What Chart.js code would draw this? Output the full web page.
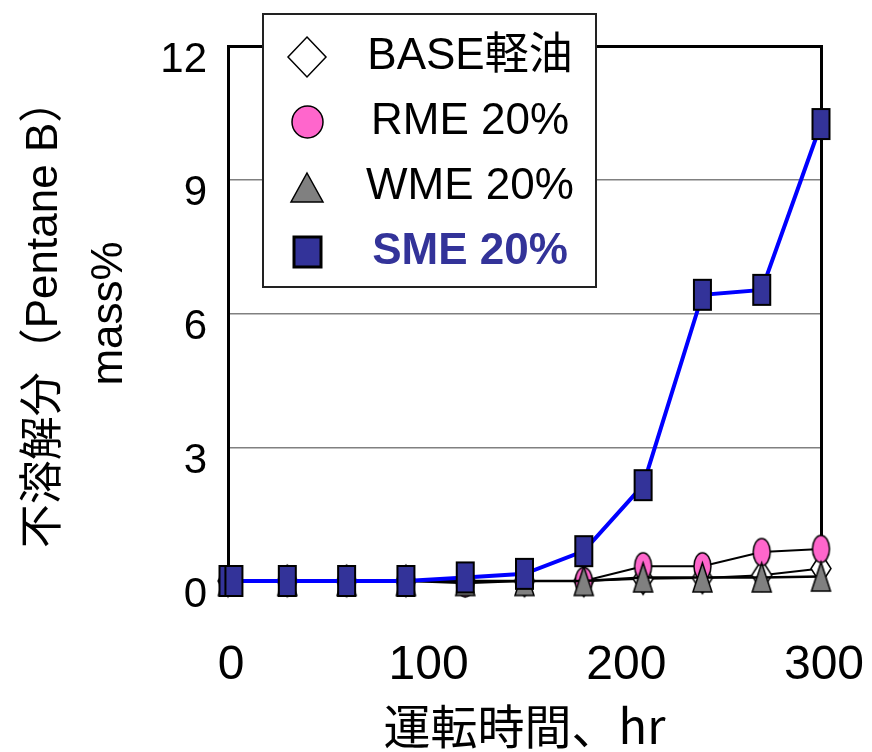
<!DOCTYPE html>
<html>
<head>
<meta charset="utf-8">
<script src="https://cdn.jsdelivr.net/npm/chart.js@4/dist/chart.umd.min.js"></script>
<style>
  html, body { margin: 0; padding: 0; background: #fff; }
  #wrap { width: 872px; height: 752px; position: relative; }
</style>
</head>
<body>
<div id="wrap"><canvas id="c"></canvas></div>
<script>
// Running time (hr) for each sample
const hours = [0, 30, 60, 90, 120, 150, 180, 210, 240, 270, 300];
const smeHours = [0, 3, 30, 60, 90, 120, 150, 180, 210, 240, 270, 300];

// Insoluble content (Pentane B), mass%
const baseOil = [0, 0, 0, 0, 0, 0, 0, 0.05, 0.07, 0.13, 0.28];
const rme20   = [0, 0, 0, 0, -0.05, 0, 0, 0.33, 0.33, 0.65, 0.72];
const wme20   = [0, 0, 0, 0, 0, 0, 0, 0.08, 0.08, 0.08, 0.1];
const sme20   = [0, 0, 0, 0, 0, 0.08, 0.16, 0.67, 2.15, 6.42, 6.53, 10.25];

const seriesLabels = ['BASE軽油', 'RME 20%', 'WME 20%', 'SME 20%'];
const xTicks = [0, 100, 200, 300];
const yTicks = [0, 3, 6, 9, 12];

const LATIN = "'Liberation Sans', Arial, 'Noto Sans CJK JP', sans-serif";
const NARROW = "'Liberation Sans Narrow', 'Arial Narrow', 'Liberation Sans', sans-serif";
const CJK = "'Noto Sans CJK JP', 'Liberation Sans', sans-serif";

// Builds a marker bitmap of the given shape and size
function marker(shape, w, h, fill, stroke, lw) {
  const pad = Math.ceil(lw) + 1;
  const c = document.createElement('canvas');
  c.width = w + pad * 2;
  c.height = h + pad * 2;
  const g = c.getContext('2d');
  g.translate(pad, pad);
  g.beginPath();
  if (shape === 'rect') {
    g.rect(0, 0, w, h);
  } else if (shape === 'ellipse') {
    g.ellipse(w / 2, h / 2, w / 2, h / 2, 0, 0, Math.PI * 2);
  } else if (shape === 'triangle') {
    g.moveTo(w / 2, 0); g.lineTo(w, h); g.lineTo(0, h); g.closePath();
  } else {
    g.moveTo(w / 2, 0); g.lineTo(w, h / 2); g.lineTo(w / 2, h); g.lineTo(0, h / 2); g.closePath();
  }
  g.fillStyle = fill;
  g.fill();
  g.lineWidth = lw;
  g.strokeStyle = stroke;
  g.lineJoin = 'miter';
  g.stroke();
  return c;
}

const PINK = '#FF66CC', GREY = '#808080', NAVY = '#333399';

const pts = (xs, ys) => xs.map((x, i) => ({ x: x, y: ys[i] }));

const datasets = [
  {
    label: seriesLabels[0], data: pts(hours, baseOil), order: 4,
    borderColor: '#000', borderWidth: 2,
    pointStyle: marker('diamond', 20, 31, '#fff', '#000', 1.5),
    legendMarker: marker('diamond', 38, 40, '#fff', '#000', 1.5),
    legendColor: '#000', legendBold: false
  },
  {
    label: seriesLabels[1], data: pts(hours, rme20), order: 3,
    borderColor: '#000', borderWidth: 2,
    pointStyle: marker('ellipse', 17, 27, PINK, '#000', 1.5),
    legendMarker: marker('ellipse', 31, 32, PINK, '#000', 1.5),
    legendColor: '#000', legendBold: false
  },
  {
    label: seriesLabels[2], data: pts(hours, wme20), order: 2,
    borderColor: '#000', borderWidth: 2.5,
    pointStyle: marker('triangle', 19, 29, GREY, '#000', 1.5),
    legendMarker: marker('triangle', 32, 29, GREY, '#000', 1.5),
    legendColor: '#000', legendBold: false
  },
  {
    label: seriesLabels[3], data: pts(smeHours, sme20), order: 1,
    borderColor: '#0000FF', borderWidth: 4,
    pointStyle: marker('rect', 17, 30, NAVY, '#000', 2),
    legendMarker: marker('rect', 27, 30, NAVY, '#000', 3),
    legendColor: NAVY, legendBold: true
  }
];
datasets.forEach(d => {
  d.showLine = true;
  d.fill = false;
  d.tension = 0;
  d.clip = false;
  d.pointRadius = 10;
  d.pointHoverRadius = 10;
});

// Framed legend drawn inside the plot
const boxLegend = {
  id: 'boxLegend',
  afterDraw(chart, args, o) {
    const ctx = chart.ctx;
    ctx.save();
    ctx.fillStyle = '#fff';
    ctx.fillRect(o.x, o.y, o.w, o.h);
    ctx.lineWidth = 2;
    ctx.strokeStyle = '#222';
    ctx.strokeRect(o.x, o.y, o.w, o.h);
    chart.data.datasets.forEach((ds, i) => {
      const cy = o.y + o.first + i * o.gap;
      const img = ds.legendMarker;
      ctx.drawImage(img, Math.round(o.markerX - img.width / 2), Math.round(cy - img.height / 2));
      ctx.font = (ds.legendBold ? 'bold ' : '') + o.fontSize + 'px ' + LATIN;
      ctx.fillStyle = ds.legendColor;
      ctx.textAlign = 'center';
      ctx.textBaseline = 'middle';
      ctx.fillText(ds.label, o.textX, cy);
    });
    ctx.restore();
  }
};

const noEdgePadding = s => { s.paddingLeft = 0; s.paddingRight = 0; s.paddingTop = 0; s.paddingBottom = 0; };

new Chart(document.getElementById('c'), {
  type: 'scatter',
  data: { datasets: datasets },
  options: {
    responsive: true,
    maintainAspectRatio: false,
    animation: false,
    events: [],
    layout: { padding: { left: 0, right: 51, top: 46, bottom: 0 } },
    plugins: {
      legend: { display: false },
      tooltip: { enabled: false },
      boxLegend: { x: 263, y: 14, w: 333, h: 273, first: 43, gap: 65, markerX: 307, textX: 470, fontSize: 44 }
    },
    scales: {
      x: {
        type: 'linear', position: 'bottom', min: 0, max: 300,
        afterBuildTicks: s => { s.ticks = xTicks.map(v => ({ value: v })); },
        grid: { display: false, drawTicks: false },
        border: { display: false },
        ticks: { color: '#000', font: { family: NARROW, size: 48 }, padding: 56, maxRotation: 0, labelOffset: 3 },
        title: { display: true, text: '運転時間、hr', color: '#000', font: { family: CJK, size: 47, lineHeight: 1.1 }, padding: { top: 0, bottom: 0 } },
        afterFit: s => { s.height = 171; noEdgePadding(s); }
      },
      y: {
        type: 'linear', position: 'left', min: 0, max: 12,
        afterBuildTicks: s => { s.ticks = yTicks.map(v => ({ value: v })); },
        grid: {
          drawTicks: false, lineWidth: 1.5,
          color: c => (c.tick && (c.tick.value === 0 || c.tick.value === 12)) ? 'rgba(0,0,0,0)' : '#808080'
        },
        border: { display: true, color: '#000', width: 3 },
        ticks: { color: '#000', font: { family: LATIN, size: 42 }, padding: 21, labelOffset: 14 },
        title: { display: true, text: ['不溶解分（Pentane B）', 'mass%'], color: '#000', font: { family: LATIN, size: 44, lineHeight: 1.48 }, padding: { top: 12, bottom: 0 } },
        afterFit: s => { s.width = 228; noEdgePadding(s); }
      },
      x2: {
        type: 'linear', position: 'top', min: 0, max: 300,
        grid: { display: false, drawTicks: false },
        ticks: { display: false },
        border: { display: true, color: '#000', width: 3 },
        afterFit: s => { s.height = 0; noEdgePadding(s); }
      },
      y2: {
        type: 'linear', position: 'right', min: 0, max: 12,
        grid: { display: false, drawTicks: false },
        ticks: { display: false },
        border: { display: true, color: '#000', width: 3 },
        afterFit: s => { s.width = 0; noEdgePadding(s); }
      }
    }
  },
  plugins: [boxLegend]
});
</script>
</body>
</html>
